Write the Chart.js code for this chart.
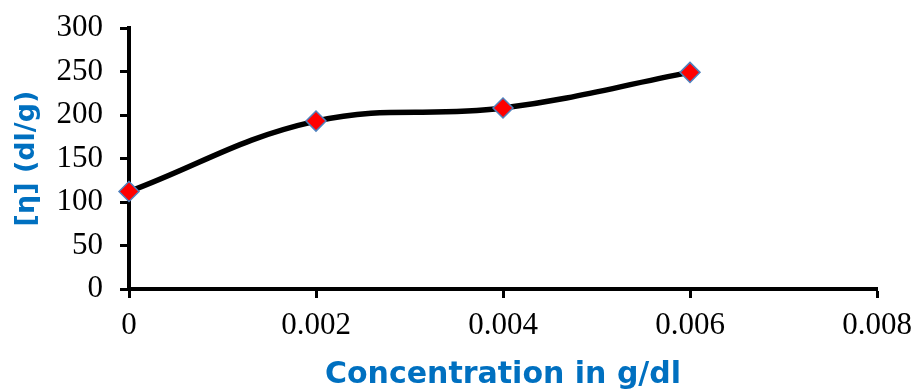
<!DOCTYPE html>
<html>
<head>
<meta charset="utf-8">
<script src="https://cdn.jsdelivr.net/npm/chart.js@4"></script>
<style>
  html, body { margin: 0; padding: 0; background: #fff; }
  .wrap { width: 914px; height: 389px; }
</style>
</head>
<body>
<div class="wrap"><canvas id="myChart"></canvas></div>
<script>
// data
let concentration = [0, 0.002, 0.004, 0.006];
let viscosity = [112, 193, 208, 249];
let xTicks = [0, 0.002, 0.004, 0.006, 0.008];
let yTicks = [0, 50, 100, 150, 200, 250, 300];

const blue = '#0070C0';
let points = concentration.map((c, i) => ({ x: c, y: viscosity[i] }));

let ctx = document.getElementById('myChart');

new Chart(ctx, {
    type: 'line',
    data: {
        datasets: [{
            data: points,
            borderColor: '#000',
            borderWidth: 5.5,
            tension: 0.4,
            clip: false,
            pointStyle: 'rectRot',
            pointRadius: 10,
            pointBackgroundColor: '#ff0000',
            pointBorderColor: '#4F81BD',
            pointBorderWidth: 1.5,
            fill: false
        }]
    },
    options: {
        responsive: true,
        maintainAspectRatio: false,
        animation: false,
        layout: { padding: { top: 28, right: 37, left: 0, bottom: 0 } },
        plugins: { legend: { display: false }, tooltip: { enabled: false } },
        scales: {
            x: {
                type: 'linear',
                min: 0,
                max: 0.008,
                afterBuildTicks: (s) => { s.ticks = xTicks.map(v => ({ value: v })); },
                afterFit: (s) => {
                    s.height = 100;
                    s.paddingLeft = 0;
                    s.paddingRight = 0;
                },
                border: { color: '#000', width: 4 },
                grid: { drawOnChartArea: false, drawTicks: true, tickLength: 9, tickColor: '#000', tickWidth: 3 },
                ticks: {
                    color: '#000',
                    padding: 9,
                    font: { family: 'Liberation Serif', size: 31 },
                    callback: (v) => v === 0 ? '0' : v.toFixed(3)
                },
                title: {
                    display: true,
                    text: 'Concentration in g/dl',
                    color: blue,
                    font: { family: 'DejaVu Sans', size: 30, weight: 'bold' },
                    padding: { top: 15, bottom: -4 }
                }
            },
            y: {
                min: 0,
                max: 300,
                afterBuildTicks: (s) => { s.ticks = yTicks.map(v => ({ value: v })); },
                afterFit: (s) => {
                    s.width = 129;
                    s.paddingTop = 0;
                    s.paddingBottom = 0;
                },
                border: { color: '#000', width: 4 },
                grid: { drawOnChartArea: false, drawTicks: true, tickLength: 9, tickColor: '#000', tickWidth: 3 },
                ticks: {
                    color: '#000',
                    padding: 17,
                    font: { family: 'Liberation Serif', size: 31 }
                },
                title: {
                    display: true,
                    text: '[η] (dl/g)',
                    color: blue,
                    font: { family: 'DejaVu Sans', size: 27, weight: 'bold' },
                    padding: { top: 11, bottom: 0 }
                }
            }
        }
    }
});
</script>
</body>
</html>
